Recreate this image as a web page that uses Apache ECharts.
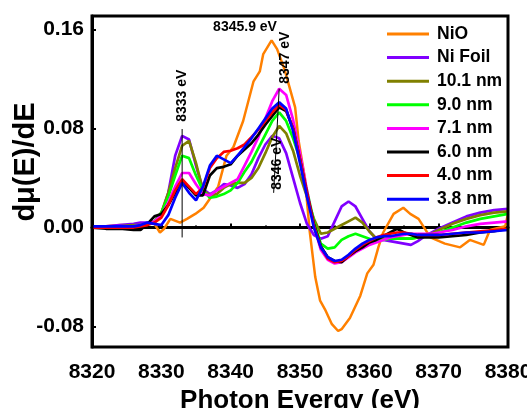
<!DOCTYPE html>
<html>
<head>
<meta charset="utf-8">
<script src="https://cdn.jsdelivr.net/npm/echarts@6/dist/echarts.min.js"></script>
<style>html,body{margin:0;padding:0;background:#fff}#c{width:527px;height:408px}</style>
</head>
<body>
<div id="c"></div>
<script>
// ---- data ----
const energy = [8320,8322,8324,8326,8327,8328,8329,8330,8331,8332,8333,8334,8335,8336,8337,8338,8339,8340,8341,8342,8343,8344,8345,8346,8347,8348,8349,8350,8351,8352,8353,8354,8355,8356,8357,8358,8359,8360,8361,8362,8363,8364,8365,8366,8367,8368,8369,8370,8372,8374,8376,8378,8380];
const niFoil = [0.000,0.001,0.002,0.003,0.004,0.004,0.004,0.011,0.028,0.058,0.074,0.071,0.050,0.031,0.027,0.030,0.035,0.034,0.032,0.035,0.043,0.056,0.067,0.074,0.072,0.060,0.040,0.020,0.003,-0.006,-0.009,-0.007,0.005,0.017,0.021,0.017,0.007,-0.003,-0.009,-0.010,-0.011,-0.012,-0.013,-0.014,-0.011,-0.007,-0.004,-0.001,0.004,0.009,0.012,0.014,0.015];
const nm101 = [0.000,0.000,0.001,0.002,0.002,0.003,0.005,0.012,0.028,0.048,0.066,0.070,0.052,0.030,0.026,0.027,0.032,0.035,0.036,0.036,0.040,0.048,0.060,0.073,0.082,0.076,0.062,0.042,0.025,0.007,-0.005,-0.004,-0.001,0.002,0.005,0.008,0.004,-0.003,-0.009,-0.009,-0.009,-0.009,-0.009,-0.009,-0.008,-0.007,-0.005,-0.002,0.003,0.007,0.010,0.012,0.013];
const nm90 = [0.000,0.000,0.001,0.001,0.002,0.003,0.005,0.012,0.025,0.042,0.058,0.056,0.042,0.030,0.024,0.025,0.027,0.030,0.036,0.045,0.053,0.064,0.075,0.086,0.093,0.086,0.072,0.055,0.030,0.005,-0.013,-0.017,-0.016,-0.010,-0.007,-0.005,-0.007,-0.009,-0.011,-0.010,-0.009,-0.009,-0.009,-0.009,-0.008,-0.007,-0.006,-0.004,0.000,0.004,0.007,0.009,0.011];
const nm71 = [0.000,0.000,0.001,0.001,0.002,0.003,0.005,0.010,0.020,0.033,0.044,0.044,0.035,0.027,0.026,0.030,0.033,0.036,0.039,0.050,0.061,0.073,0.088,0.102,0.112,0.107,0.087,0.060,0.030,0.002,-0.018,-0.026,-0.029,-0.028,-0.024,-0.020,-0.017,-0.014,-0.012,-0.010,-0.008,-0.007,-0.006,-0.005,-0.005,-0.005,-0.005,-0.004,-0.002,0.001,0.003,0.004,0.005];
const nm60 = [0.000,-0.001,-0.001,-0.002,-0.002,0.003,0.009,0.011,0.018,0.028,0.038,0.032,0.026,0.026,0.042,0.048,0.049,0.051,0.058,0.063,0.068,0.075,0.083,0.090,0.097,0.094,0.080,0.055,0.028,0.003,-0.015,-0.024,-0.027,-0.028,-0.023,-0.019,-0.016,-0.012,-0.010,-0.007,-0.004,-0.001,-0.004,-0.006,-0.008,-0.008,-0.008,-0.008,-0.007,-0.006,-0.004,-0.003,-0.001];
const nm40 = [0.000,0.000,0.000,0.000,0.001,0.002,0.004,0.008,0.018,0.030,0.039,0.033,0.027,0.032,0.048,0.056,0.061,0.062,0.064,0.067,0.073,0.079,0.086,0.093,0.099,0.095,0.080,0.055,0.028,0.002,-0.016,-0.025,-0.028,-0.027,-0.023,-0.018,-0.014,-0.011,-0.008,-0.006,-0.005,-0.004,-0.004,-0.005,-0.006,-0.006,-0.006,-0.006,-0.005,-0.004,-0.003,-0.002,-0.001];
const nm38 = [0.001,0.001,0.001,0.001,0.002,0.004,0.003,0.002,0.010,0.024,0.036,0.028,0.022,0.033,0.050,0.058,0.055,0.052,0.058,0.065,0.072,0.080,0.088,0.096,0.101,0.096,0.078,0.052,0.025,0.000,-0.016,-0.024,-0.027,-0.026,-0.022,-0.017,-0.013,-0.010,-0.008,-0.007,-0.007,-0.006,-0.005,-0.005,-0.006,-0.006,-0.006,-0.006,-0.005,-0.004,-0.004,-0.003,-0.002];
const nioEnergy = [8320,8322,8324,8326,8328,8329,8329.8,8330.4,8331.3,8332.7,8333.7,8334.9,8336.1,8337.1,8338.2,8339.4,8340.4,8341.8,8343.3,8344.2,8344.7,8345.9,8346.7,8347.8,8349.3,8349.8,8350.7,8351.4,8352.2,8352.9,8353.6,8354.6,8355.5,8356,8357.2,8358.7,8359.7,8360.6,8361.3,8362,8363.5,8364.9,8365.9,8367.1,8368.8,8370.9,8373.1,8374.5,8375.5,8376.5,8377.4,8379.6,8380];
const nio = [0.000,0.001,0.002,0.002,0.003,0.003,-0.004,-0.001,0.007,0.004,0.007,0.011,0.016,0.024,0.033,0.058,0.065,0.086,0.118,0.126,0.140,0.151,0.144,0.127,0.097,0.070,0.040,-0.003,-0.040,-0.059,-0.066,-0.078,-0.0835,-0.082,-0.073,-0.055,-0.037,-0.030,-0.016,-0.004,0.011,0.016,0.011,0.007,-0.008,-0.013,-0.016,-0.010,-0.012,-0.014,-0.002,0.001,0.011];
const seriesNames = ['NiO','Ni Foil','10.1 nm','9.0 nm','7.1 nm','6.0 nm','4.0 nm','3.8 nm'];
const seriesColors = ['#FF8000','#8000FF','#808000','#00FF00','#FF00FF','#000000','#FF0000','#0000FF'];
const yLabelValues = [-0.08, 0, 0.08, 0.16];
const yMinorValues = [-0.04, 0.04, 0.12];
const annotLine1 = [[8333,-0.008],[8333,0.0795]];
const annotLine2 = [[8347,0.112],[8346.2,0.028]];

const FONT = "'Liberation Sans', Arial, sans-serif";
const chart = echarts.init(document.getElementById('c'));
const sampleArrays = [niFoil, nm101, nm90, nm71, nm60, nm40, nm38];
const series = [];
series.push({name:'NiO', type:'line', data: nioEnergy.map((e,i)=>[e,nio[i]]), symbol:'none', lineStyle:{width:2.5,color:seriesColors[0]}, itemStyle:{color:seriesColors[0]}, z:2});
sampleArrays.forEach((arr,k)=>{
  series.push({name:seriesNames[k+1], type:'line', data: energy.map((e,i)=>[e,arr[i]]), symbol:'none',
    lineStyle:{width:2.7,color:seriesColors[k+1]}, itemStyle:{color:seriesColors[k+1]}, z:3+k});
});
[annotLine1, annotLine2].forEach(d=>{
  series.push({type:'line', data:d, symbol:'none', lineStyle:{width:1,color:'#000'}, z:20, silent:true});
});

chart.setOption({
  animation:false,
  backgroundColor:'#fff',
  grid:{left:92,right:19,top:16,bottom:61,outerBoundsMode:'none',containLabel:false,show:true,borderWidth:3,borderColor:'#000',backgroundColor:'transparent',z:30},
  legend:{orient:'vertical',left:382,top:20,itemWidth:42,itemHeight:3,itemGap:5.6,icon:'rect',
    data:seriesNames,
    textStyle:{fontFamily:FONT,fontWeight:'bold',fontSize:17.5,color:'#000',lineHeight:18,padding:[0,0,0,3]}},
  xAxis:{type:'value',min:8320,max:8380,interval:10,
    name:'Photon Evergy (eV)',nameLocation:'middle',nameGap:37,
    nameTextStyle:{fontFamily:FONT,fontWeight:'bold',fontSize:26,color:'#000'},
    axisLine:{show:true,lineStyle:{color:'#000',width:3}},
    axisTick:{show:true,inside:true,length:4,lineStyle:{color:'#000',width:2}},
    minorTick:{show:true,splitNumber:2,length:2,lineStyle:{color:'#000',width:2}},
    axisLabel:{fontFamily:FONT,fontWeight:'bold',fontSize:21,color:'#000',margin:15,hideOverlap:false,formatter:v=>String(v)},
    splitLine:{show:false}},
  yAxis:[{type:'value',min:-0.0964,max:0.1707,
    axisLine:{show:true,lineStyle:{color:'#000',width:3}},
    axisTick:{show:true,inside:true,length:4,lineStyle:{color:'#000',width:2},customValues:yLabelValues},
    axisLabel:{fontFamily:FONT,fontWeight:'bold',fontSize:21,color:'#000',margin:8,customValues:yLabelValues,
      formatter:v=>v.toFixed(2)},
    splitLine:{show:false}},
   {type:'value',min:-0.0964,max:0.1707,position:'left',
    axisLine:{show:false},
    axisTick:{show:true,inside:true,length:2,lineStyle:{color:'#000',width:2},customValues:yMinorValues},
    axisLabel:{show:false},splitLine:{show:false}}],
  series: series
});

function px(e,v){return chart.convertToPixel({gridIndex:0},[e,v]);}
const tStyle = {fontFamily:FONT,fontWeight:'bold',fontSize:14,fill:'#000',align:'center',verticalAlign:'middle'};
const p1 = px(8333,0.1064), p2 = px(8342.07,0.1614), p3 = px(8347.84,0.137), p4 = px(8346.7,0.0515);
chart.setOption({graphic:[
  {type:'text',x:p1[0],y:p1[1],rotation:Math.PI/2,style:Object.assign({text:'8333 eV'},tStyle),z:50},
  {type:'text',x:p2[0],y:p2[1],style:Object.assign({text:'8345.9 eV'},tStyle),z:50},
  {type:'text',x:p3[0],y:p3[1],rotation:Math.PI/2,style:Object.assign({text:'8347 eV'},tStyle),z:50},
  {type:'text',x:p4[0],y:p4[1],rotation:Math.PI/2,style:Object.assign({text:'8346 eV'},tStyle),z:50},
  {type:'text',x:26,y:162,rotation:Math.PI/2,style:{text:'dμ(E)/dE',fontFamily:FONT,fontWeight:'bold',fontSize:29,fill:'#000',align:'center',verticalAlign:'middle'},z:50}
]});
</script>
</body>
</html>
